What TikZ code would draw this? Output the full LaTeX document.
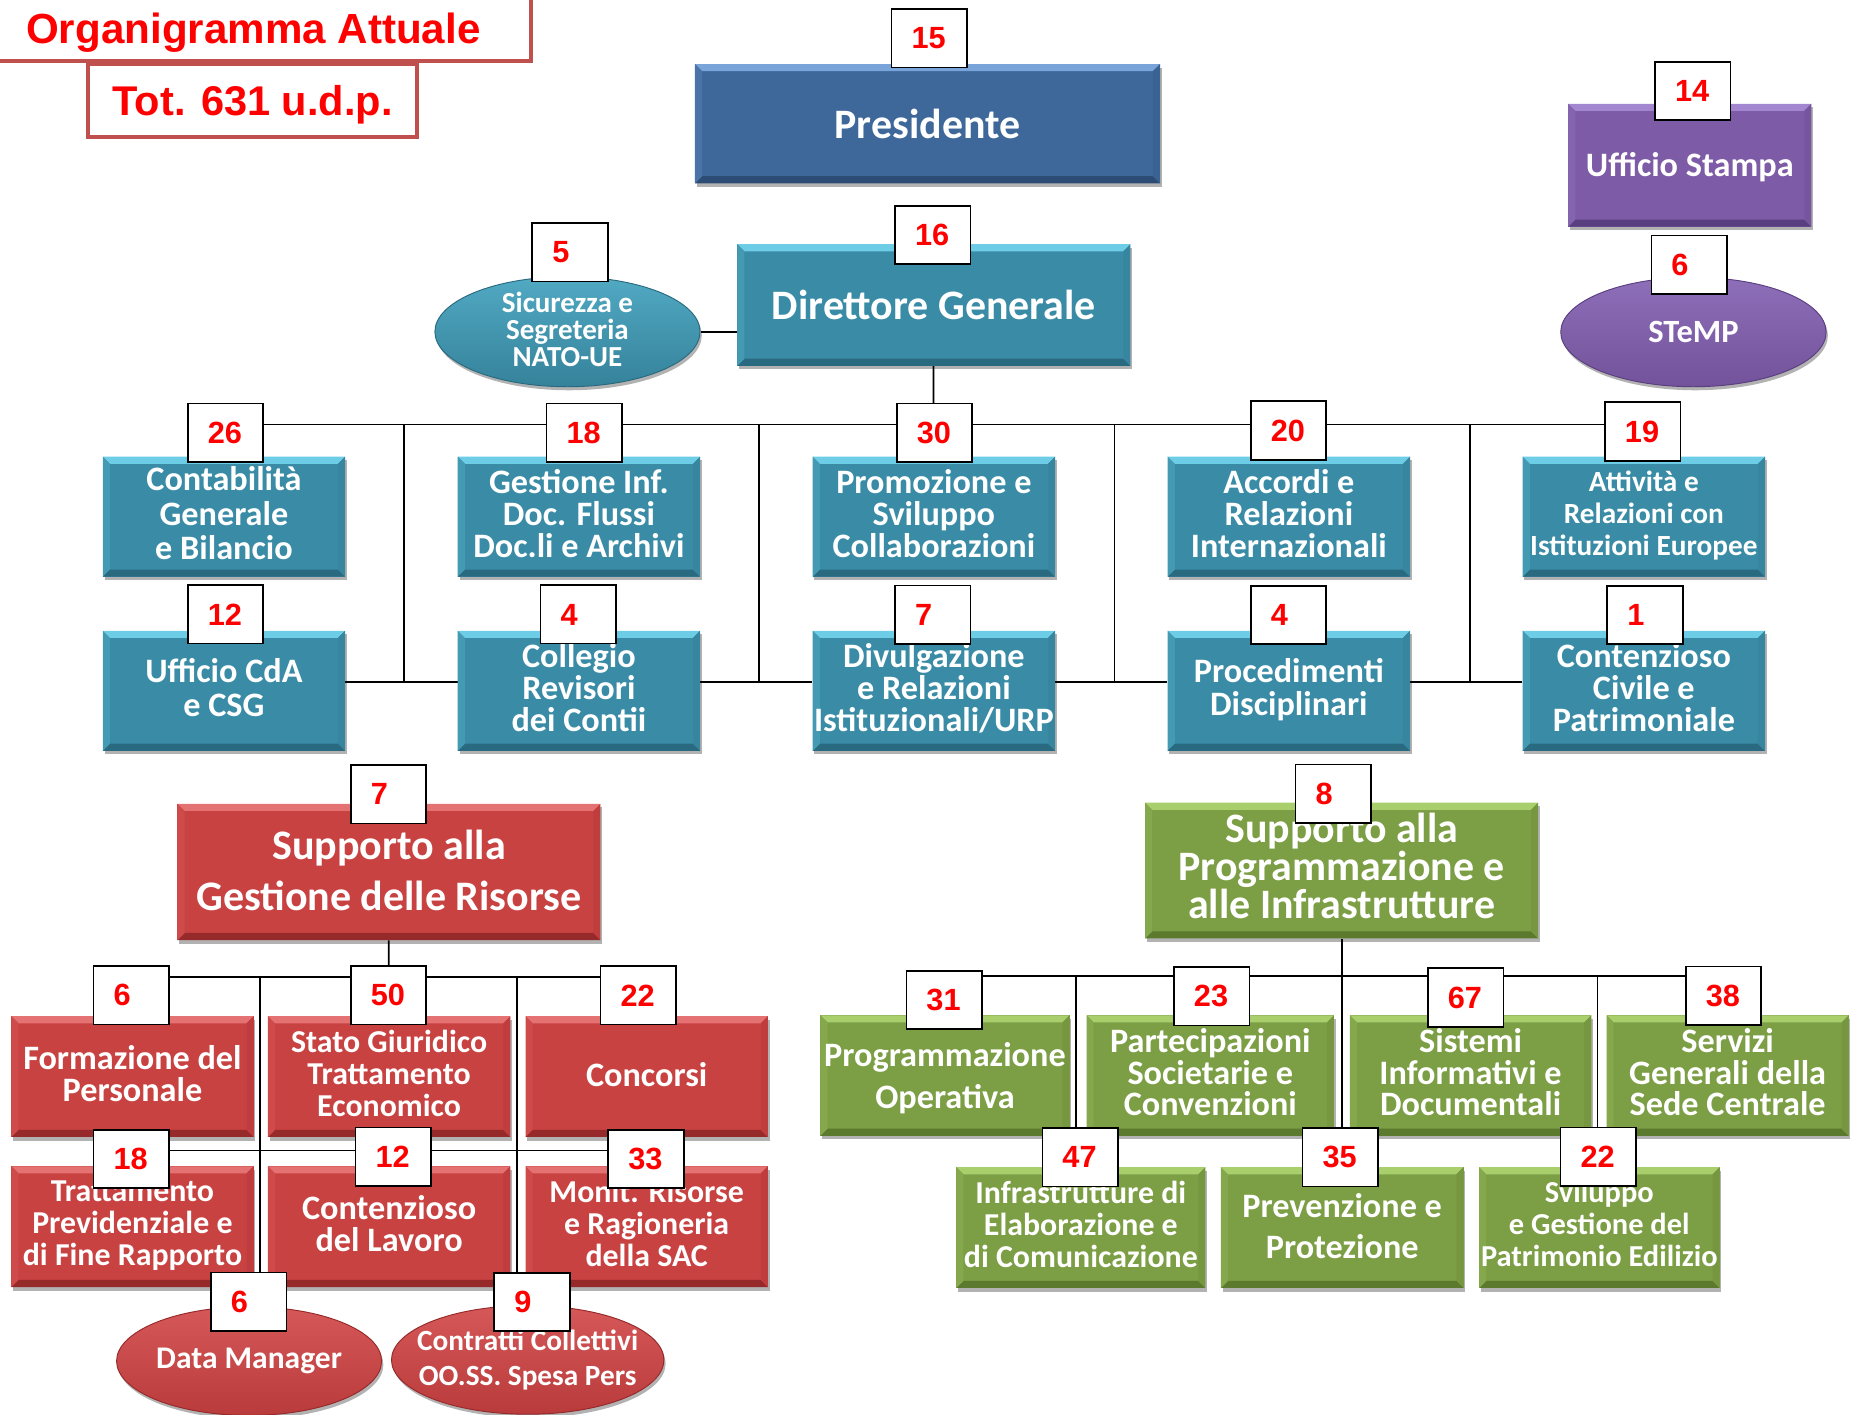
\documentclass[tikz,border=0pt]{standalone}
\usepackage{fontspec}
\setmainfont{Carlito}
\newfontfamily\numfont{Liberation Sans}
\usetikzlibrary{shapes.geometric,shadows}

\definecolor{tealM}{HTML}{3A8CA6}
\definecolor{tealL}{HTML}{6ECDE6}
\definecolor{tealD}{HTML}{2A6A80}
\definecolor{blueM}{HTML}{3E679A}
\definecolor{blueL}{HTML}{78A4DA}
\definecolor{blueD}{HTML}{2C4C75}
\definecolor{purM}{HTML}{7D5BA6}
\definecolor{purL}{HTML}{A286CF}
\definecolor{purD}{HTML}{5A3F80}
\definecolor{redM}{HTML}{C94242}
\definecolor{redL}{HTML}{E57272}
\definecolor{redD}{HTML}{962A2A}
\definecolor{grnM}{HTML}{7C9E44}
\definecolor{grnL}{HTML}{A9CF6C}
\definecolor{grnD}{HTML}{5C7A2E}
\definecolor{numred}{HTML}{FF0000}
\definecolor{frameC}{HTML}{C0504D}

\newcommand\setfs[2]{\fontsize{#1pt}{#2pt}\selectfont}

\pgfdeclarelayer{paper}
\pgfdeclarelayer{wires}
\pgfsetlayers{paper,wires,main}

\tikzset{
  wire/.style={draw=black, line width=1.5pt},
  bev/.style n args={3}{rectangle, inner sep=0pt, fill=#1, text=white,
    align=center, font=\bfseries\setfs{29}{27}, text depth=6pt,
    drop shadow={shadow xshift=1.5pt, shadow yshift=-3pt, opacity=0.3, fill=black},
    path picture={
      \path (path picture bounding box.north west) coordinate (pnw)
            (path picture bounding box.north east) coordinate (pne)
            (path picture bounding box.south west) coordinate (psw)
            (path picture bounding box.south east) coordinate (pse);
      \fill[#2] (pnw) -- (pne) -- ([shift={(-6pt,-6pt)}]pne) -- ([shift={(6pt,-6pt)}]pnw) -- cycle;
      \fill[#3] (psw) -- (pse) -- ([shift={(-6pt,6pt)}]pse) -- ([shift={(6pt,6pt)}]psw) -- cycle;
      \fill[#1!80!#2] (pnw) -- ([shift={(6pt,-6pt)}]pnw) -- ([shift={(6pt,6pt)}]psw) -- (psw) -- cycle;
      \fill[#1!80!#3] (pne) -- ([shift={(-6pt,-6pt)}]pne) -- ([shift={(-6pt,6pt)}]pse) -- (pse) -- cycle;
    }},
  ell/.style n args={3}{ellipse, inner sep=-12pt, top color=#1!55!#2, middle color=#1,
    bottom color=#1!70!#3, draw=#3, line width=0.8pt, text=white, align=center,
    font=\bfseries\setfs{29}{27},
    drop shadow={shadow xshift=1.5pt, shadow yshift=-3pt, opacity=0.3, fill=black}},
  tealbox/.style={bev={tealM}{tealL}{tealD}},
  bluebox/.style={bev={blueM}{blueL}{blueD}},
  purbox/.style={bev={purM}{purL}{purD}},
  redbox/.style={bev={redM}{redL}{redD}},
  grnbox/.style={bev={grnM}{grnL}{grnD}},
  tealell/.style={ell={tealM}{tealL}{tealD}},
  purell/.style={ell={purM}{purL}{purD}},
  redell/.style={ell={redM}{redL}{redD}},
  unitA/.style={minimum width=205.3pt, minimum height=101.6pt},
  unitB/.style={minimum width=205.3pt, minimum height=102.3pt},
  numbox/.style={draw=black, line width=1.4pt, fill=white, minimum width=64pt,
    minimum height=49.5pt, inner xsep=17pt, inner ysep=0pt, text width=30pt,
    align=left, text=numred, font=\numfont\bfseries\setfs{26}{26}},
  framebox/.style={draw=frameC, line width=3.4pt, fill=white, inner sep=0pt},
}

\begin{document}
\begin{tikzpicture}[x=1pt,y=-1pt]
\begin{pgfonlayer}{paper}
  \fill[white] (0,0) rectangle (1568,1198);
\end{pgfonlayer}
\useasboundingbox (0,0) rectangle (1568,1198);

% ---- heading
\node[framebox, minimum width=500pt, minimum height=80pt] (titlefr) at (200,12) {};
\node[anchor=base west, inner sep=0pt, text=numred, font=\numfont\bfseries\setfs{35.7}{40}]
  (title) at (22,36.7) {Organigramma Attuale};
\node[framebox, minimum width=279pt, minimum height=62pt, text depth=0pt, text=numred,
  font=\numfont\bfseries\setfs{35.2}{40}] (tot) at (214,85.25) {Tot. 631 u.d.p.};

% ---- top level
\node[bluebox, minimum width=394pt, minimum height=101pt, font=\bfseries\setfs{35.5}{35}, text depth=0pt]
  (pres) at (785.7,104.8) {Presidente};
\node[purbox, minimum width=206pt, minimum height=104pt, text depth=1pt] (ustampa) at (1431.4,140) {Ufficio Stampa};
\node[tealbox, minimum width=333pt, minimum height=103pt, font=\bfseries\setfs{35.5}{35}, text depth=0pt]
  (dg) at (791.1,258.4) {Direttore Generale};
\node[tealell, minimum width=224.6pt, minimum height=93.2pt, font=\bfseries\setfs{24.6}{22.6}, text depth=4pt]
  (sic) at (480.7,281) {Sicurezza e\\Segreteria\\NATO-UE};
\node[purell, minimum width=224.8pt, minimum height=92.6pt, font=\bfseries\setfs{27.5}{27}]
  (stemp) at (1434.5,281.3) {STeMP};

% ---- staff offices, first row
\node[tealbox, unitA, font=\bfseries\setfs{29}{29}] (contab) at (189.7,437.7) {Contabilità\\Generale\\e Bilancio};
\node[tealbox, unitA] (gest) at (490.4,437.7) {Gestione Inf.\\Doc. Flussi\\Doc.li e Archivi};
\node[tealbox, unitA] (prom) at (791.1,437.7) {Promozione e\\Sviluppo\\Collaborazioni};
\node[tealbox, unitA] (acc) at (1091.8,437.7) {Accordi e\\Relazioni\\Internazionali};
\node[tealbox, unitA, font=\bfseries\setfs{24.8}{27}] (att) at (1392.5,437.7) {Attività e\\Relazioni con\\Istituzioni Europee};

% ---- staff offices, second row
\node[tealbox, unitA, font=\bfseries\setfs{29}{29}] (ucda) at (189.7,585.2) {Ufficio CdA\\e CSG};
\node[tealbox, unitA] (coll) at (490.4,585.2) {Collegio\\Revisori\\dei Contii};
\node[tealbox, unitA] (divu) at (791.1,585.2) {Divulgazione\\e Relazioni\\Istituzionali/URP};
\node[tealbox, unitA, font=\bfseries\setfs{29}{28}] (proc) at (1091.8,585.2) {Procedimenti\\Disciplinari};
\node[tealbox, unitA] (cont) at (1392.5,585.2) {Contenzioso\\Civile e\\Patrimoniale};

% ---- resources department
\node[redbox, minimum width=358.3pt, minimum height=115.4pt, font=\bfseries\setfs{35.6}{43}, text depth=3pt]
  (sgr) at (329.5,738.6) {Supporto alla\\Gestione delle Risorse};
\node[redbox, unitB] (form) at (112.2,912) {Formazione del\\Personale};
\node[redbox, unitB, font=\bfseries\setfs{27}{27}] (stato) at (329.6,912) {Stato Giuridico\\Trattamento\\Economico};
\node[redbox, unitB, text depth=3pt] (conc) at (547.8,912) {Concorsi};
\node[redbox, unitB, font=\bfseries\setfs{27}{27}] (tratt) at (112.2,1039.1) {Trattamento\\Previdenziale e\\di Fine Rapporto};
\node[redbox, unitB] (clav) at (329.6,1039.1) {Contenzioso\\del Lavoro};
\node[redbox, unitB, font=\bfseries\setfs{27}{27}] (monit) at (547.8,1039.1) {Monit. Risorse\\e Ragioneria\\della SAC};
\node[redell, minimum width=224.5pt, minimum height=92pt, font=\bfseries\setfs{26.7}{27}]
  (dm) at (211,1153) {Data Manager};
\node[redell, minimum width=224pt, minimum height=92pt, font=\bfseries\setfs{24.8}{29}]
  (ccoll) at (447,1152) {Contratti Collettivi\\OO.SS. Spesa Pers};

% ---- planning and infrastructure department
\node[grnbox, minimum width=333pt, minimum height=115pt, font=\bfseries\setfs{35.5}{32}, text depth=8pt]
  (spi) at (1136.5,737.5) {Supporto alla\\Programmazione e\\alle Infrastrutture};
\node[grnbox, minimum width=211pt, minimum height=102pt, font=\bfseries\setfs{29}{36}, text depth=0pt]
  (progop) at (800.5,911.1) {Programmazione\\Operativa};
\node[grnbox, minimum width=209.5pt, minimum height=102pt] (part) at (1025.25,911.1) {Partecipazioni\\Societarie e\\Convenzioni};
\node[grnbox, minimum width=204.5pt, minimum height=102pt] (sist) at (1245.75,911.1) {Sistemi\\Informativi e\\Documentali};
\node[grnbox, minimum width=205pt, minimum height=102pt] (serv) at (1463.5,911.1) {Servizi\\Generali della\\Sede Centrale};
\node[grnbox, minimum width=211pt, minimum height=102.3pt, font=\bfseries\setfs{27}{27}]
  (infra) at (915.6,1039.9) {Infrastrutture di\\Elaborazione e\\di Comunicazione};
\node[grnbox, minimum width=205.5pt, minimum height=102.3pt, font=\bfseries\setfs{29}{35}, text depth=3pt]
  (prev) at (1137,1039.9) {Prevenzione e\\Protezione};
\node[grnbox, minimum width=203.8pt, minimum height=102.3pt, font=\bfseries\setfs{25.8}{27}]
  (svil) at (1354.8,1039.9) {Sviluppo\\e Gestione del\\Patrimonio Edilizio};

% ---- staff counts
\node[numbox] (n15) at (787.2,32.5) {15};
\node[numbox] (n14) at (1433.9,77.1) {14};
\node[numbox] (n16) at (790.2,199) {16};
\node[numbox] (n5) at (482.9,213.6) {5};
\node[numbox] (n6s) at (1430.9,224.3) {6};
\node[numbox] (n26) at (191,366.7) {26};
\node[numbox] (n18t) at (495,366.7) {18};
\node[numbox] (n30) at (791.6,366.7) {30};
\node[numbox] (n20) at (1091.5,364.7) {20};
\node[numbox] (n19) at (1391.5,365.5) {19};
\node[numbox] (n12t) at (191,520.5) {12};
\node[numbox] (n4c) at (490,520.5) {4};
\node[numbox] (n7d) at (790.2,520.6) {7};
\node[numbox] (n4p) at (1091.5,521) {4};
\node[numbox] (n1) at (1393.5,521) {1};
\node[numbox] (n7g) at (329.1,672.7) {7};
\node[numbox] (n6f) at (111.3,843.2) {6};
\node[numbox] (n50) at (329.1,843.2) {50};
\node[numbox] (n22c) at (540.7,843.2) {22};
\node[numbox] (n18) at (111.3,981.7) {18};
\node[numbox] (n12c) at (333.2,980) {12};
\node[numbox] (n33) at (547.2,981.7) {33};
\node[numbox] (n6dm) at (210.6,1102.8) {6};
\node[numbox] (n9) at (450.7,1103) {9};
\node[numbox] (n8) at (1129.5,672.5) {8};
\node[numbox] (n31) at (799.8,847.1) {31};
\node[numbox] (n23) at (1026.4,844) {23};
\node[numbox] (n67) at (1241.5,845) {67};
\node[numbox] (n38) at (1460,843.4) {38};
\node[numbox] (n47) at (915,980.2) {47};
\node[numbox] (n35) at (1135.3,980.2) {35};
\node[numbox] (n22s) at (1353.9,980) {22};

% ---- connectors, kept behind the boxes
\begin{pgfonlayer}{wires}
  \draw[wire] (sic) -- (dg.west |- sic);
  \coordinate (tbus) at (790.6,359.5);
  \draw[wire] (dg) -- (tbus);
  \draw[wire] (n26 |- tbus) -- (n19 |- tbus);
  \coordinate (j1) at (342,359.5);  \coordinate (k1) at (342,577.5);
  \coordinate (j2) at (643,359.5);  \coordinate (k2) at (643,577.5);
  \coordinate (j3) at (944,359.5);  \coordinate (k3) at (944,577.5);
  \coordinate (j4) at (1245,359.5); \coordinate (k4) at (1245,577.5);
  \draw[wire] (j1) -- (k1);
  \draw[wire] (j2) -- (k2);
  \draw[wire] (j3) -- (k3);
  \draw[wire] (j4) -- (k4);
  \draw[wire] (ucda.east |- k1) -- (coll.west |- k1);
  \draw[wire] (coll.east |- k2) -- (divu.west |- k2);
  \draw[wire] (divu.east |- k3) -- (proc.west |- k3);
  \draw[wire] (proc.east |- k4) -- (cont.west |- k4);

  \coordinate (rbus) at (329.3,827.3);
  \coordinate (rbus2) at (329.3,974.5);
  \draw[wire] (sgr) -- (rbus);
  \draw[wire] (n6f |- rbus) -- (n22c |- rbus);
  \draw[wire] (n18 |- rbus2) -- (n33 |- rbus2);
  \coordinate (rv1) at (220.4,827.3);
  \coordinate (rv2) at (437.8,827.3);
  \draw[wire] (rv1) -- (rv1 |- n6dm);
  \draw[wire] (rv2) -- (rv2 |- n9);

  \coordinate (gbus) at (1136.5,827);
  \draw[wire] (spi) -- (gbus) -- (gbus |- n35);
  \draw[wire] (n31 |- gbus) -- (n38 |- gbus);
  \coordinate (gv1) at (911.6,827);
  \coordinate (gv2) at (1353.3,827);
  \draw[wire] (gv1) -- (gv1 |- n47);
  \draw[wire] (gv2) -- (gv2 |- n22s);
\end{pgfonlayer}
\end{tikzpicture}
\end{document}
